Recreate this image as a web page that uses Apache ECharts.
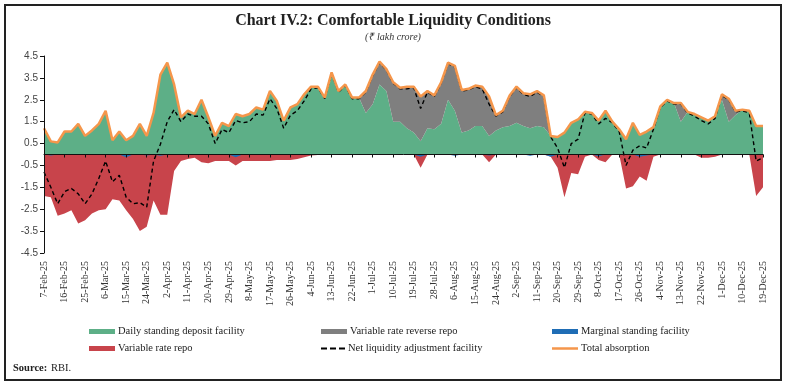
<!DOCTYPE html>
<html><head><meta charset="utf-8">
<script src="https://cdn.jsdelivr.net/npm/echarts@6/dist/echarts.min.js"></script>
<style>html,body{margin:0;padding:0;background:#fff}#c{width:787px;height:387px}</style>
</head><body><div id="c"></div>
<script>
// Sampled every 3 days from 7-Feb-25 to 19-Dec-25 (₹ lakh crore)
const startDate = { y: 2025, m: 1, d: 7 };
const stepDays = 3;

const totalAbsorption = [1.2,0.6,0.55,1.05,1.05,1.4,0.85,1.1,1.4,2.0,
 0.65,1.05,0.65,0.85,1.4,0.85,1.9,3.65,4.2,3.2,
 1.7,2.0,1.85,2.5,1.7,0.85,1.45,1.3,1.85,1.75,
 1.85,2.15,2.05,2.9,2.45,1.55,2.15,2.3,2.75,3.1,
 3.1,2.6,3.75,2.9,3.2,2.6,2.6,2.9,3.65,4.25,
 3.9,3.3,3.05,3.1,3.1,2.65,2.9,2.7,3.3,4.2,
 4.05,2.95,3.0,3.15,3.1,2.65,1.8,2.0,2.7,3.1,
 2.8,2.75,2.9,2.7,0.85,0.8,1.0,1.45,1.6,1.95,
 1.9,1.55,2.0,1.5,1.15,0.7,1.45,0.9,1.05,1.25,
 2.2,2.5,2.35,2.35,1.95,1.85,1.7,1.55,1.75,2.75,
 2.55,2.0,2.05,2.0,1.3,1.3];

const sdf = [1.2,0.6,0.55,1.05,1.05,1.4,0.85,1.1,1.4,2.0,
 0.65,1.05,0.65,0.85,1.4,0.85,1.9,3.65,4.2,3.2,
 1.7,2.0,1.85,2.5,1.7,0.85,1.45,1.3,1.85,1.75,
 1.85,2.15,2.05,2.9,2.45,1.55,2.15,2.3,2.75,3.1,
 3.1,2.6,3.75,2.9,3.2,2.6,2.6,1.9,2.3,3.2,
 2.9,1.5,1.5,1.2,1.0,0.6,1.2,1.15,1.4,2.5,
 2.0,1.0,1.1,1.3,1.3,0.85,1.1,1.25,1.3,1.45,
 1.3,1.2,1.3,1.25,0.85,0.8,1.0,1.45,1.6,1.95,
 1.9,1.55,2.0,1.5,1.15,0.7,1.45,0.9,1.05,1.25,
 2.2,2.5,2.35,1.5,1.95,1.85,1.7,1.55,1.75,2.5,
 1.5,1.8,2.05,2.0,1.3,1.3];

const vrrr = [0,0,0,0,0,0,0,0,0,0,
 0,0,0,0,0,0,0,0,0,0,
 0,0,0,0,0,0,0,0,0,0,
 0,0,0,0,0,0,0,0,0,0,
 0,0,0,0,0,0,0,1.0,1.35,1.05,
 1.0,1.8,1.55,1.9,2.1,2.05,1.7,1.55,1.9,1.7,
 2.05,1.95,1.9,1.85,1.8,1.8,0.7,0.75,1.4,1.65,
 1.5,1.55,1.6,1.45,0,0,0,0,0,0,
 0,0,0,0,0,0,0,0,0,0,
 0,0,0,0.85,0,0,0,0,0,0.25,
 1.05,0.2,0,0,0,0];

const vrr = [-1.9,-1.95,-2.8,-2.7,-2.55,-3.15,-3.0,-2.7,-2.55,-2.5,
 -2.05,-2.1,-2.55,-2.95,-3.5,-3.3,-2.1,-2.75,-2.75,-0.75,
 -0.3,-0.2,-0.15,-0.35,-0.4,-0.3,-0.3,-0.3,-0.5,-0.3,
 -0.3,-0.3,-0.3,-0.3,-0.25,-0.25,-0.25,-0.2,-0.12,-0.05,
 -0.02,0,0,0,0,0,0,0,0,0,
 0,0,0,0,0,-0.6,0,0,0,0,
 0,0,0,0,0,-0.35,0,0,0,0,
 0,0,0,0,-0.1,-0.6,-1.95,-0.85,-0.9,-0.1,
 0,-0.25,-0.35,0,0,-1.55,-1.45,-1.0,-1.2,-0.1,
 0,0,0,0,0,0,-0.15,-0.15,-0.1,0,
 0,0,0,0,-1.9,-1.5];

const msf = [0,-0.05,0,0,0,0,0,0,0,0,
 0,0,-0.12,0,0,-0.05,0,-0.06,0,0,
 0,0,0,0,0,0,0,0,-0.12,0,
 0,0,0,0,0,0,0,0,0,0,
 0,0,0,0,0,0,0,0,0,0,
 0,0,0,0,0,-0.1,0,0,0,0,
 -0.06,0,0,0,0,-0.05,0,0,0,0,
 0,-0.06,0,0,-0.1,0,0,0,0,0,
 0,-0.08,0,0,0,0,0,-0.1,-0.05,0,
 0,0,0,0,0,0,0,0,0,0,
 0,0,0,0,0,0];

const netLaf = [-0.8,-1.5,-2.25,-1.7,-1.55,-1.8,-2.25,-1.8,-1.1,-0.3,
 -1.25,-0.95,-1.95,-2.25,-2.2,-2.4,-0.3,0.47,1.5,2.05,
 1.5,1.85,1.75,1.75,1.4,0.5,1.15,1.0,1.55,1.45,
 1.5,1.85,1.8,2.55,2.1,1.2,1.8,2.0,2.45,3.0,
 3.05,2.55,3.7,2.85,3.15,2.55,2.55,2.85,3.6,4.2,
 3.85,3.25,3.0,3.0,3.05,2.1,2.85,2.65,3.25,4.15,
 4.0,2.9,2.95,3.1,3.0,2.3,1.75,1.95,2.65,3.05,
 2.75,2.65,2.85,2.65,0.8,0.3,-0.6,0.5,0.7,1.9,
 1.85,1.4,1.65,1.45,1.05,-0.5,0.2,0.4,0.3,1.15,
 2.15,2.45,2.3,2.3,1.9,1.75,1.55,1.4,1.65,2.7,
 2.5,1.95,2.0,1.9,-0.3,-0.15];

const seriesNames = ['Daily standing deposit facility','Variable rate reverse repo','Marginal standing facility',
  'Variable rate repo','Net liquidity adjustment facility','Total absorption'];
const MONTHS = ['Jan','Feb','Mar','Apr','May','Jun','Jul','Aug','Sep','Oct','Nov','Dec'];

const categories = [];
for (let k = 0; k < totalAbsorption.length; k++) {
  const d = new Date(Date.UTC(startDate.y, startDate.m, startDate.d + stepDays * k));
  categories.push(d.getUTCDate() + '-' + MONTHS[d.getUTCMonth()] + '-' + String(d.getUTCFullYear()).slice(2));
}

const GREEN = '#5daf87', GRAY = '#7f7f7f', BLUE = '#1f6db5', RED = '#c8444b', ORANGE = '#f5964b';
const SERIF = '"Liberation Serif", "DejaVu Serif", serif';

const chart = echarts.init(document.getElementById('c'), null, { renderer: 'canvas' });

function legendAt(name, left, top, extra) {
  return Object.assign({
    data: [{ name: name, icon: 'rect' }],
    left: left, top: top, padding: 0,
    itemWidth: 26, itemHeight: 5, selectedMode: false,
    itemStyle: { borderWidth: 0 },
    textStyle: { fontFamily: SERIF, fontSize: 10.5, color: '#222', padding: [0, 0, 0, -2] }
  }, extra || {});
}

chart.setOption({
  animation: false,
  grid: { left: 44, right: 24, top: 56, bottom: 134, containLabel: false, outerBoundsMode: 'none' },
  xAxis: {
    type: 'category', data: categories, boundaryGap: false, position: 'bottom', z: 20,
    axisLine: { show: true, onZero: true, lineStyle: { color: '#111', width: 1 } },
    axisTick: { show: true, interval: 2, length: 3, inside: false, lineStyle: { color: '#111' } },
    axisLabel: { interval: 2, rotate: 90, margin: 8, fontFamily: SERIF, fontSize: 10, color: '#333' }
  },
  yAxis: {
    type: 'value', min: -4.5, max: 4.5, interval: 1, z: 20,
    axisLine: { show: true, lineStyle: { color: '#111', width: 1 } },
    axisTick: { show: true, length: 4, lineStyle: { color: '#111' } },
    splitLine: { show: false },
    axisLabel: { margin: 6, fontFamily: '"Liberation Sans", Arial, sans-serif', fontSize: 10, color: '#444',
      formatter: v => v.toFixed(1) }
  },
  legend: [
    legendAt(seriesNames[0], 89, 326),
    legendAt(seriesNames[1], 321, 326),
    legendAt(seriesNames[2], 552, 326),
    legendAt(seriesNames[3], 89, 343),
    legendAt(seriesNames[4], 321, 343, { data: [{ name: seriesNames[4], icon: 'path://M0,0H6V2H0Z M9,0H15V2H9Z M18,0H24V2H18Z' }], itemWidth: 24, itemHeight: 2 }),
    legendAt(seriesNames[5], 552, 343, { itemHeight: 2.5 })
  ],
  series: [
    { name: seriesNames[0], type: 'line', data: sdf, stack: 'absorb', symbol: 'none', z: 1,
      lineStyle: { width: 0 }, itemStyle: { color: GREEN }, areaStyle: { color: GREEN, opacity: 1 } },
    { name: seriesNames[1], type: 'line', data: vrrr, stack: 'absorb', symbol: 'none', z: 1,
      lineStyle: { width: 0 }, itemStyle: { color: GRAY }, areaStyle: { color: GRAY, opacity: 1 } },
    { name: seriesNames[3], type: 'line', data: vrr, symbol: 'none', z: 2,
      lineStyle: { width: 0 }, itemStyle: { color: RED }, areaStyle: { color: RED, opacity: 1 } },
    { name: seriesNames[2], type: 'line', data: msf, symbol: 'none', z: 3,
      lineStyle: { width: 0 }, itemStyle: { color: BLUE }, areaStyle: { color: BLUE, opacity: 1 } },
    { name: seriesNames[4], type: 'line', data: netLaf, symbol: 'none', z: 4,
      lineStyle: { color: '#000', width: 1.4, type: [4, 3] }, itemStyle: { color: '#000' } },
    { name: seriesNames[5], type: 'line', data: totalAbsorption, symbol: 'none', z: 5,
      lineStyle: { color: ORANGE, width: 2.5 }, itemStyle: { color: ORANGE } }
  ],
  graphic: [
    { type: 'rect', shape: { x: 5, y: 5, width: 776, height: 375 }, style: { fill: 'none', stroke: '#222', lineWidth: 2 }, silent: true },
    { type: 'text', x: 393, y: 21, style: { text: 'Chart IV.2: Comfortable Liquidity Conditions', align: 'center', verticalAlign: 'middle',
        font: 'bold 16px "Liberation Serif", serif', fill: '#222' } },
    { type: 'text', x: 393, y: 37, style: { text: '(₹ lakh crore)', align: 'center', verticalAlign: 'middle',
        font: 'italic 10px "Liberation Serif", serif', fill: '#333' } },
    { type: 'text', x: 13, y: 368, style: { text: 'Source:', align: 'left', verticalAlign: 'middle',
        font: 'bold 10.5px "Liberation Serif", serif', fill: '#222' } },
    { type: 'text', x: 51, y: 368, style: { text: 'RBI.', align: 'left', verticalAlign: 'middle',
        font: '10.5px "Liberation Serif", serif', fill: '#222' } }
  ]
});
</script></body></html>
